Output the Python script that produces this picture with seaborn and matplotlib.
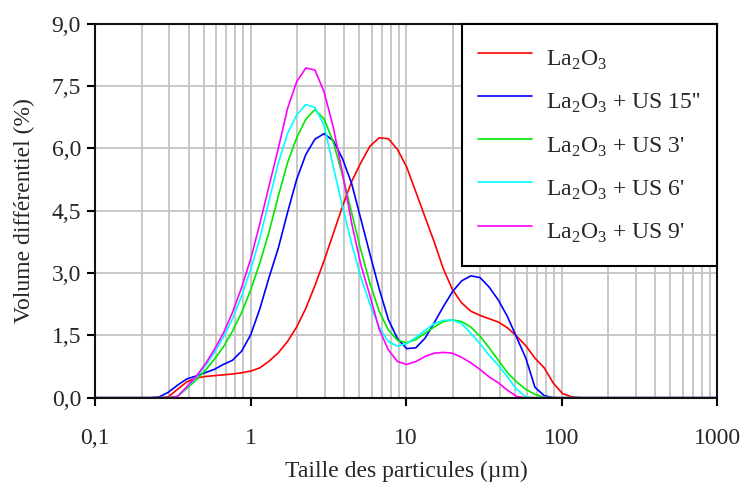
import numpy as np
import pandas as pd
import matplotlib.pyplot as plt
import seaborn as sns
from matplotlib.ticker import LogLocator, NullFormatter

sns.set_style("white")
plt.rcParams['font.family'] = ['Liberation Serif', 'DejaVu Serif']
plt.rcParams['mathtext.fontset'] = 'custom'
plt.rcParams['mathtext.rm'] = 'Liberation Serif'

# particle size bins (um)
sizes = [0.100, 0.226, 0.259, 0.296, 0.339, 0.389, 0.445, 0.510, 0.584, 0.669,
         0.766, 0.877, 1.005, 1.151, 1.318, 1.510, 1.729, 1.981, 2.269, 2.599,
         2.976, 3.409, 3.905, 4.472, 5.122, 5.867, 6.720, 7.697, 8.816, 10.097,
         11.565, 13.246, 15.172, 17.377, 19.904, 22.797, 26.111, 29.907, 34.255, 39.234,
         44.938, 51.471, 58.953, 67.523, 77.339, 88.583, 101.46, 116.21, 133.10, 1000.0]

# volume differentiel (%)
la2o3 = [0, 0, 0, 0.02, 0.2, 0.38, 0.47, 0.51, 0.53, 0.55,
         0.57, 0.6, 0.64, 0.72, 0.88, 1.08, 1.35, 1.7, 2.15, 2.7,
         3.3, 3.95, 4.6, 5.2, 5.65, 6.05, 6.25, 6.23, 5.97, 5.55,
         4.95, 4.35, 3.75, 3.1, 2.6, 2.28, 2.08, 1.98, 1.9, 1.82,
         1.68, 1.48, 1.25, 0.95, 0.72, 0.35, 0.1, 0.02, 0, 0]
us_15s = [0, 0, 0.02, 0.13, 0.3, 0.45, 0.52, 0.6, 0.68, 0.8,
          0.9, 1.12, 1.52, 2.15, 2.9, 3.6, 4.45, 5.25, 5.85, 6.22,
          6.35, 6.18, 5.75, 5.15, 4.3, 3.45, 2.62, 1.88, 1.42, 1.18,
          1.2, 1.43, 1.8, 2.19, 2.55, 2.81, 2.93, 2.89, 2.66, 2.35,
          1.95, 1.45, 0.95, 0.25, 0.05, 0, 0, 0, 0, 0]
us_3m = [0, 0, 0, 0, 0.03, 0.22, 0.42, 0.65, 0.92, 1.22,
         1.6, 2.05, 2.6, 3.25, 4.0, 4.85, 5.65, 6.25, 6.7, 6.93,
         6.7, 6.15, 5.35, 4.45, 3.55, 2.75, 2.08, 1.63, 1.38, 1.32,
         1.4, 1.55, 1.7, 1.83, 1.87, 1.83, 1.7, 1.48, 1.2, 0.9,
         0.6, 0.38, 0.2, 0.08, 0.01, 0, 0, 0, 0, 0]
us_6m = [0, 0, 0, 0, 0.03, 0.24, 0.48, 0.76, 1.08, 1.45,
         1.9, 2.45, 3.1, 3.85, 4.75, 5.65, 6.35, 6.8, 7.05, 6.98,
         6.55, 5.55, 4.6, 3.7, 2.9, 2.25, 1.7, 1.35, 1.24, 1.3,
         1.45, 1.62, 1.78, 1.86, 1.87, 1.78, 1.55, 1.3, 1.02, 0.78,
         0.5, 0.2, 0.02, 0, 0, 0, 0, 0, 0, 0]
us_9m = [0, 0, 0, 0, 0.03, 0.26, 0.5, 0.8, 1.15, 1.55,
         2.05, 2.65, 3.35, 4.2, 5.1, 6.0, 6.95, 7.6, 7.93, 7.88,
         7.35, 6.5, 5.4, 4.2, 3.2, 2.45, 1.65, 1.15, 0.87, 0.8,
         0.87, 0.99, 1.07, 1.09, 1.07, 0.97, 0.84, 0.68, 0.5, 0.36,
         0.18, 0.03, 0, 0, 0, 0, 0, 0, 0, 0]

labels = ['La$_\\mathregular{2}$O$_\\mathregular{3}$',
          "La$_\\mathregular{2}$O$_\\mathregular{3}$ + US 15''",
          "La$_\\mathregular{2}$O$_\\mathregular{3}$ + US 3'",
          "La$_\\mathregular{2}$O$_\\mathregular{3}$ + US 6'",
          "La$_\\mathregular{2}$O$_\\mathregular{3}$ + US 9'"]
colors = ['#ff0000', '#0000ff', '#00e800', '#00ffff', '#ff00ff']
series = [la2o3, us_15s, us_3m, us_6m, us_9m]

df = pd.concat([pd.DataFrame({'size': sizes, 'vol': s, 'sample': lab})
                for s, lab in zip(series, labels)], ignore_index=True)

fig = plt.figure(figsize=(7.44, 4.83), dpi=100)
ax = fig.add_axes([95 / 744, 1 - 397.7 / 483, (717 - 95) / 744, (397.7 - 23.5) / 483])

sns.lineplot(data=df, x='size', y='vol', hue='sample', hue_order=labels,
             palette=dict(zip(labels, colors)), estimator=None, sort=False,
             linewidth=1.2, ax=ax)

ax.set_xscale('log')
ax.set_xlim(0.1, 1000)
ax.set_ylim(0, 9)

yt = np.arange(0, 9.01, 1.5)
ax.set_yticks(yt)
ax.set_yticklabels([f"{v:.1f}".replace('.', ',') for v in yt])
ax.set_xticks([0.1, 1, 10, 100, 1000])
ax.set_xticklabels(['0,1', '1', '10', '100', '1000'])
ax.xaxis.set_minor_locator(LogLocator(base=10, subs=np.arange(2, 10)))
ax.xaxis.set_minor_formatter(NullFormatter())

ax.set_axisbelow(True)
ax.grid(True, which='both', axis='x', color='#c4c4c4', linewidth=1.3)
ax.grid(True, which='major', axis='y', color='#c4c4c4', linewidth=1.3)
ax.tick_params(which='minor', length=0)
ax.tick_params(which='major', direction='out', length=6, width=1.5,
               labelsize=17, color='black', left=True, bottom=True)
ax.tick_params(axis='x', pad=16)
ax.tick_params(axis='y', pad=4)

for side in ['left', 'bottom', 'top', 'right']:
    ax.spines[side].set_color('#111111')
    ax.spines[side].set_linewidth(1.5)

ax.set_xlabel('Taille des particules (µm)', fontsize=17, labelpad=8)
ax.set_ylabel('Volume différentiel (%)', fontsize=17, labelpad=12)

handles, labs = ax.get_legend_handles_labels()
leg = ax.legend(handles, labs, loc='upper right', bbox_to_anchor=(1.0, 1.0),
                borderaxespad=0, fontsize=17, frameon=True, fancybox=False,
                framealpha=1, edgecolor='black', handlelength=2.3,
                handleheight=2.1, handletextpad=0.6, labelspacing=0.22,
                borderpad=0.68)
leg.get_frame().set_linewidth(1.5)

fig.savefig('out.png', dpi=100)
